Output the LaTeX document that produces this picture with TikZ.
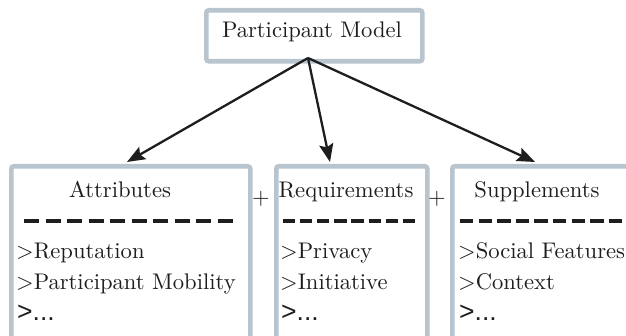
\documentclass[tikz,border=0pt]{standalone}
\usepackage{fontspec}
\newfontfamily\plainsans{Liberation Sans}
\usetikzlibrary{arrows.meta,calc}
\definecolor{framegray}{HTML}{B8C4CE}
\definecolor{inkgray}{HTML}{1E1E1E}
% text set at 10pt and enlarged, so the strokes keep the 10pt design weight
\newcommand\bigtext[1]{\scalebox{2.26}{\fontsize{10}{12}\selectfont #1}}
\newcommand\bigsans[1]{\scalebox{2.65}{\plainsans\fontsize{10}{12}\selectfont #1}}
\tikzset{
  box/.style={draw=framegray, line width=4.6pt, rounded corners=2.5pt, fill=white,
    inner sep=0pt, anchor=north west},
  label/.style={inner sep=0pt, anchor=base, text=inkgray},
  item/.style={label, anchor=base west},
  rule/.style={line width=3.3pt, draw=inkgray},
  link/.style={line width=2.3pt, draw=inkgray,
    -{Stealth[length=18pt,width=14pt,inset=3pt]}},
}
\begin{document}
\begin{tikzpicture}[x=1pt,y=-1pt]
\useasboundingbox (0,0) rectangle (626,336);

% top model box
\node[box, minimum width=216pt, minimum height=51pt] (model) at (204,8) {};
\node[label] (modeltxt) at (312,38) {\bigtext{Participant Model}};

% three part boxes
\node[box, minimum width=239pt, minimum height=175pt] (attr) at (9,164) {};
\node[box, minimum width=151pt, minimum height=175pt] (req) at (274,164) {};
\node[box, minimum width=200pt, minimum height=175pt] (supp) at (450,164) {};

% arrows from the model box
\coordinate (hub) at (308,58);
\draw[link] (hub) -- ($(attr.north west)+(118,-2)$);
\draw[link] (hub) -- ($(req.north west)+(56,-2)$);
\draw[link] (hub) -- ($(supp.north west)+(85,-2)$);

% plus signs between the boxes
\node[label, anchor=center] (plusA) at (261,199) {\bigtext{+}};
\node[label, anchor=center] (plusB) at (437,199) {\bigtext{+}};

% Attributes
\node[label] (attrT) at (120,198) {\bigtext{Attributes}};
\draw[rule, dash pattern=on 15.4pt off 6.1pt] (24,221) -- (233,221);
\node[item] (attr1) at (16,259) {\bigtext{>Reputation}};
\node[item] (attr2) at (16,290) {\bigtext{>Participant Mobility}};
\node[item] (attr3) at (17,321) {\bigsans{>...}};

% Requirements
\node[label] (reqT) at (346,198) {\bigtext{Requirements}};
\draw[rule, dash pattern=on 12.2pt off 4.9pt] (283,221) -- (415,221);
\node[item] (req1) at (280,259) {\bigtext{>Privacy}};
\node[item] (req2) at (280,290) {\bigtext{>Initiative}};
\node[item] (req3) at (281,321) {\bigsans{>...}};

% Supplements
\node[label] (suppT) at (537,198) {\bigtext{Supplements}};
\draw[rule, dash pattern=on 13.3pt off 5.3pt] (460,221) -- (622,221);
\node[item] (supp1) at (458,259) {\bigtext{>Social Features}};
\node[item] (supp2) at (458,290) {\bigtext{>Context}};
\node[item] (supp3) at (459,321) {\bigsans{>...}};
\end{tikzpicture}
\end{document}
